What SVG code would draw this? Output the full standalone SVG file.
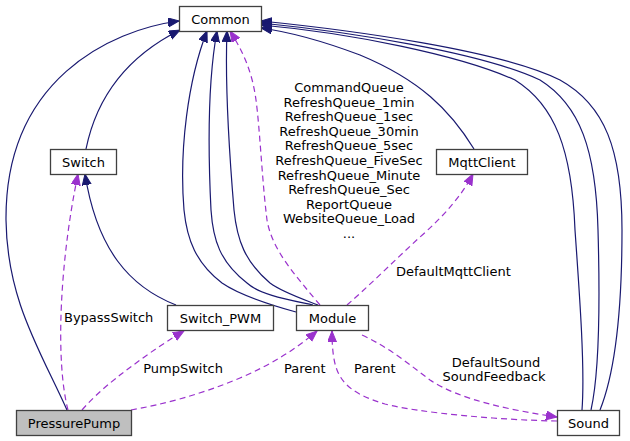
<svg xmlns="http://www.w3.org/2000/svg" width="630" height="441" viewBox="0 0 630 441">
<style>
text{font-family:"DejaVu Sans","Liberation Sans",sans-serif;font-size:13px;fill:#000}
.c{text-anchor:middle}
.n rect{fill:#fff;stroke:#404040;stroke-width:1.3}
.s{fill:none;stroke:#191970;stroke-width:1.2}
.d{fill:none;stroke:#9a32cd;stroke-width:1.2;stroke-dasharray:6,4}
.sa{marker-end:url(#an)}
.da{marker-end:url(#ap)}
</style>
<defs>
<marker id="an" markerUnits="userSpaceOnUse" markerWidth="12" markerHeight="10" refX="11" refY="4.5" orient="auto"><path d="M0,0 L11,4.5 L0,9 z" fill="#191970" stroke="#191970"/></marker>
<marker id="ap" markerUnits="userSpaceOnUse" markerWidth="12" markerHeight="10" refX="11" refY="4.5" orient="auto"><path d="M0,0 L11,4.5 L0,9 z" fill="#9a32cd" stroke="#9a32cd"/></marker>
</defs>
<rect width="630" height="441" fill="#fff"/>
<g id="edges">
<path class="s sa" d="M67,410 C40,350 7,300 6,220 C5,80 110,30 179,21"/>
<path class="s sa" d="M86,149 C95,105 120,60 180,30"/>
<path class="s sa" d="M176,305 C130,287 97,250 85,174"/>
<path class="s sa" d="M296,312 C260,302 235,292 222,283 C196,263 187,240 184,210 C179,150 188,80 207,31"/>
<path class="s sa" d="M313,305 C290,300 260,295 247,283 C220,262 213,240 211,210 C208,150 208,80 217,31"/>
<path class="s sa" d="M318,305 C300,298 282,292 270,283 C245,262 237,240 234,210 C229,150 225,80 227,31"/>
<path class="d da" d="M320,305 C295,275 272,250 267,220 C262,180 260,130 256,100 C252,70 242,50 230,31"/>
<path class="s sa" d="M474,149 C450,110 420,80 360,55 C320,40 290,32 261,28"/>
<path class="s sa" d="M600,410 C616,370 622,300 622,230 C622,150 605,105 560,80 C500,50 350,30 261,21"/>
<path class="s sa" d="M591,410 C600,370 600,300 598,230 C596,150 580,105 540,80 C480,52 350,32 261,23"/>
<path class="s sa" d="M582,410 C585,370 580,300 575,230 C572,150 555,105 515,80 C460,55 350,33 261,25"/>
<path class="d da" d="M68,410 C55,360 60,260 78,174"/>
<path class="d da" d="M82,410 C95,395 110,383 120,375 C140,360 160,345 184,331"/>
<path class="d da" d="M131,410 C160,405 200,395 240,378 C270,365 295,350 317,331"/>
<path class="d da" d="M557,421 C500,420 420,413 385,404 C355,395 343,385 337,370 C333,360 332,345 332,331"/>
<path class="d da" d="M362,335 C390,348 410,365 430,380 C460,400 510,410 557,417"/>
<path class="d da" d="M347,305 C370,285 395,260 420,237 C445,215 462,195 473,174"/>
</g>
<g id="labels">
<text x="64" y="322">BypassSwitch</text>
<text class="c" x="183" y="373">PumpSwitch</text>
<text x="284" y="373">Parent</text>
<text x="354" y="373">Parent</text>
<text class="c" x="496" y="367">DefaultSound</text>
<text class="c" x="494" y="381">SoundFeedback</text>
<text x="396" y="276">DefaultMqttClient</text>
<text class="c" x="349" y="92">CommandQueue</text>
<text class="c" x="349" y="106.6">RefreshQueue_1min</text>
<text class="c" x="349" y="121.2">RefreshQueue_1sec</text>
<text class="c" x="349" y="135.8">RefreshQueue_30min</text>
<text class="c" x="349" y="150.4">RefreshQueue_5sec</text>
<text class="c" x="349" y="165">RefreshQueue_FiveSec</text>
<text class="c" x="349" y="179.6">RefreshQueue_Minute</text>
<text class="c" x="349" y="194.2">RefreshQueue_Sec</text>
<text class="c" x="349" y="208.8">ReportQueue</text>
<text class="c" x="349" y="223.4">WebsiteQueue_Load</text>
<text class="c" x="349" y="238">...</text>
</g>
<g id="Common" class="n"><rect x="179.5" y="6.5" width="82" height="25"/><text class="c" x="220.5" y="23.5">Common</text></g>
<g id="Switch" class="n"><rect x="50.5" y="149.5" width="66" height="25"/><text class="c" x="83.5" y="166.5">Switch</text></g>
<g id="MqttClient" class="n"><rect x="436.5" y="149.5" width="91" height="25"/><text class="c" x="482" y="166.5">MqttClient</text></g>
<g id="Switch_PWM" class="n"><rect x="167.5" y="305.5" width="106" height="25"/><text class="c" x="220.5" y="322.5">Switch_PWM</text></g>
<g id="Module" class="n"><rect x="296.5" y="305.5" width="72" height="25"/><text class="c" x="332.5" y="322.5">Module</text></g>
<g id="PressurePump" class="n"><rect x="16.5" y="410.5" width="115" height="25" style="fill:#bfbfbf"/><text class="c" x="74" y="427.5">PressurePump</text></g>
<g id="Sound" class="n"><rect x="557.5" y="410.5" width="62" height="25"/><text class="c" x="588.5" y="427.5">Sound</text></g>
</svg>
